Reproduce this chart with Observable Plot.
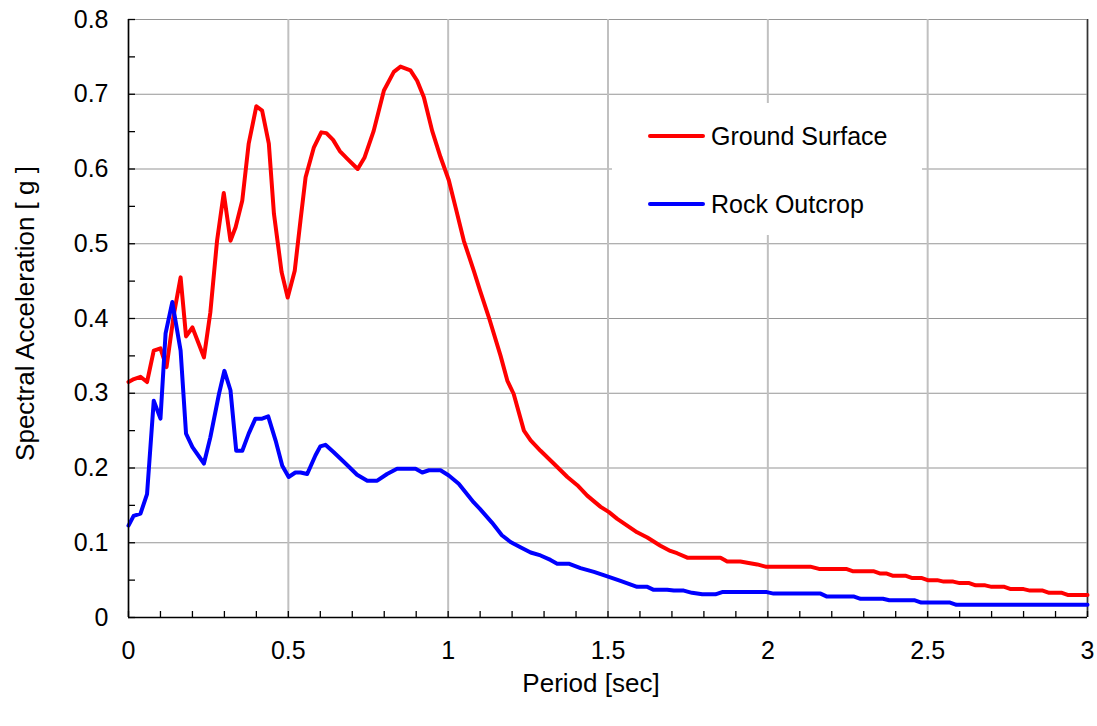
<!DOCTYPE html>
<html>
<head>
<meta charset="utf-8">
<script src="https://cdn.jsdelivr.net/npm/d3@7"></script>
<script src="https://cdn.jsdelivr.net/npm/@observablehq/plot@0.6"></script>
<style>
  html, body { margin: 0; padding: 0; background: #fff; }
  #wrap { position: relative; width: 1097px; height: 726px; font-family: "Liberation Sans", Arial, sans-serif; }
  #legend { position: absolute; left: 612px; top: 103px; width: 310px; height: 132px; background: #fff; }
  .row { position: absolute; left: 36px; height: 30px; display: flex; align-items: center; }
  .sw { width: 57px; height: 4px; border-radius: 2px; margin-right: 6px; }
  .lab { font-size: 25px; color: #000; white-space: nowrap; }
</style>
</head>
<body>
<div id="wrap"><div id="legend"></div></div>
<script>
// ---- data ----
const seriesNames = ["Ground Surface", "Rock Outcrop"];
const seriesColors = ["#ff0000", "#0000ff"];

const groundT = [0, 0.017, 0.0375, 0.058, 0.079, 0.1, 0.119, 0.142, 0.163, 0.18, 0.2, 0.22, 0.236, 0.256, 0.277, 0.298, 0.319, 0.335, 0.356, 0.376, 0.4, 0.418, 0.439, 0.455, 0.479, 0.498, 0.52, 0.538, 0.554, 0.58, 0.603, 0.619, 0.64, 0.661, 0.684, 0.717, 0.738, 0.767, 0.799, 0.83, 0.851, 0.882, 0.903, 0.924, 0.95, 0.976, 1.002, 1.023, 1.049, 1.08, 1.1, 1.127, 1.164, 1.185, 1.205, 1.237, 1.258, 1.289, 1.33, 1.373, 1.404, 1.435, 1.477, 1.503, 1.529, 1.591, 1.623, 1.664, 1.695, 1.716, 1.748, 1.852, 1.873, 1.914, 1.94, 1.967, 1.993, 2.133, 2.16, 2.245, 2.265, 2.33, 2.35, 2.37, 2.39, 2.43, 2.45, 2.48, 2.5, 2.53, 2.55, 2.58, 2.6, 2.63, 2.65, 2.68, 2.7, 2.74, 2.76, 2.8, 2.82, 2.86, 2.88, 2.92, 2.94, 3.0];
const groundSA = [0.315, 0.319, 0.322, 0.315, 0.357, 0.36, 0.335, 0.406, 0.455, 0.376, 0.388, 0.366, 0.348, 0.408, 0.504, 0.568, 0.504, 0.522, 0.558, 0.634, 0.684, 0.678, 0.634, 0.54, 0.462, 0.428, 0.464, 0.531, 0.589, 0.629, 0.649, 0.648, 0.639, 0.624, 0.614, 0.6, 0.615, 0.651, 0.705, 0.73, 0.737, 0.732, 0.718, 0.696, 0.651, 0.616, 0.585, 0.549, 0.504, 0.464, 0.437, 0.402, 0.35, 0.317, 0.299, 0.25, 0.237, 0.223, 0.206, 0.188, 0.177, 0.163, 0.148, 0.141, 0.132, 0.114, 0.107, 0.096, 0.089, 0.086, 0.08, 0.08, 0.075, 0.075, 0.073, 0.071, 0.068, 0.068, 0.065, 0.065, 0.062, 0.062, 0.059, 0.059, 0.056, 0.056, 0.053, 0.053, 0.05, 0.05, 0.048, 0.048, 0.046, 0.046, 0.043, 0.043, 0.041, 0.041, 0.038, 0.038, 0.036, 0.036, 0.033, 0.033, 0.03, 0.03];

const rockT = [0, 0.016, 0.0375, 0.058, 0.079, 0.1, 0.116, 0.137, 0.163, 0.18, 0.2, 0.236, 0.256, 0.283, 0.3, 0.319, 0.337, 0.356, 0.376, 0.397, 0.418, 0.437, 0.46, 0.481, 0.501, 0.522, 0.538, 0.559, 0.585, 0.6, 0.616, 0.642, 0.679, 0.715, 0.747, 0.778, 0.809, 0.84, 0.898, 0.919, 0.94, 0.976, 1.002, 1.033, 1.08, 1.1, 1.137, 1.168, 1.195, 1.226, 1.258, 1.289, 1.32, 1.341, 1.377, 1.414, 1.456, 1.498, 1.539, 1.591, 1.623, 1.643, 1.685, 1.706, 1.737, 1.763, 1.795, 1.836, 1.857, 1.997, 2.018, 2.165, 2.185, 2.27, 2.29, 2.36, 2.38, 2.46, 2.48, 2.57, 2.59, 3.0];
const rockSA = [0.123, 0.136, 0.139, 0.165, 0.29, 0.266, 0.38, 0.422, 0.357, 0.246, 0.228, 0.206, 0.241, 0.299, 0.33, 0.304, 0.223, 0.223, 0.246, 0.266, 0.266, 0.269, 0.237, 0.203, 0.188, 0.194, 0.194, 0.192, 0.217, 0.229, 0.231, 0.221, 0.206, 0.191, 0.183, 0.183, 0.192, 0.199, 0.199, 0.194, 0.197, 0.197, 0.19, 0.179, 0.154, 0.145, 0.127, 0.11, 0.101, 0.094, 0.087, 0.083, 0.077, 0.072, 0.072, 0.066, 0.061, 0.055, 0.049, 0.041, 0.041, 0.037, 0.037, 0.036, 0.036, 0.033, 0.031, 0.031, 0.034, 0.034, 0.032, 0.032, 0.028, 0.028, 0.025, 0.025, 0.023, 0.023, 0.02, 0.02, 0.017, 0.017];

const xLabelTicks = [0, 0.5, 1, 1.5, 2, 2.5, 3];
const xMinorTicks = [0, 0.1, 0.2, 0.3, 0.4, 0.5, 0.6, 0.7, 0.8, 0.9, 1, 1.1, 1.2, 1.3, 1.4, 1.5, 1.6, 1.7, 1.8, 1.9, 2, 2.1, 2.2, 2.3, 2.4, 2.5, 2.6, 2.7, 2.8, 2.9, 3];
const yLabelTicks = [0, 0.1, 0.2, 0.3, 0.4, 0.5, 0.6, 0.7, 0.8];
const yMinorTicks = [0, 0.05, 0.1, 0.15, 0.2, 0.25, 0.3, 0.35, 0.4, 0.45, 0.5, 0.55, 0.6, 0.65, 0.7, 0.75, 0.8];
const xTitle = "Period [sec]";
const yTitle = "Spectral Acceleration [ g ]";

// ---- build table ----
const rows = [];
groundT.forEach((t, i) => rows.push({series: seriesNames[0], T: t, SA: groundSA[i]}));
rockT.forEach((t, i) => rows.push({series: seriesNames[1], T: t, SA: rockSA[i]}));

const chart = Plot.plot({
  width: 1097,
  height: 726,
  marginLeft: 128,
  marginRight: 10,
  marginTop: 19,
  marginBottom: 109,
  style: {fontFamily: "'Liberation Sans', Arial, sans-serif", fontSize: "25px", color: "#000", background: "#fff"},
  x: {domain: [0, 3], label: null},
  y: {domain: [0, 0.8], label: null},
  color: {domain: seriesNames, range: seriesColors},
  marks: [
    Plot.gridY({ticks: yLabelTicks, stroke: "#969696", strokeOpacity: 1, strokeWidth: 1.2}),
    Plot.gridX({ticks: xLabelTicks, stroke: "#c0c0c0", strokeOpacity: 1, strokeWidth: 2}),
    Plot.ruleX([3], {stroke: "#333", strokeWidth: 1.5}),
    Plot.line(rows, {x: "T", y: "SA", z: "series", stroke: "series", strokeWidth: 4, strokeLinejoin: "round", strokeLinecap: "round"}),
    Plot.ruleX([0], {stroke: "#000", strokeWidth: 1.5}),
    Plot.ruleY([0], {stroke: "#000", strokeWidth: 1.5}),
    Plot.axisX({ticks: xMinorTicks, tickSize: -6, tickFormat: () => "", label: null, stroke: "#000", strokeWidth: 1.3}),
    Plot.axisY({ticks: yMinorTicks, tickSize: -7, tickFormat: () => "", label: null, stroke: "#000", strokeWidth: 1.3}),
    Plot.axisX({ticks: xLabelTicks, tickSize: 0, tickPadding: 24, tickFormat: d => String(d), label: null, fontSize: 25}),
    Plot.axisY({ticks: yLabelTicks, tickSize: 0, tickPadding: 20, tickFormat: d => String(d), label: null, fontSize: 25}),
    Plot.text([xTitle], {frameAnchor: "bottom", dx: -17, dy: 66, fontSize: 26, fill: "#000", lineAnchor: "middle", textAnchor: "middle"}),
    Plot.text([yTitle], {frameAnchor: "left", dx: -103, dy: -5, rotate: -90, fontSize: 26, fill: "#000", lineAnchor: "middle", textAnchor: "middle"})
  ]
});

const wrap = document.getElementById("wrap");
wrap.insertBefore(chart, wrap.firstChild);

// legend
const legend = document.getElementById("legend");
seriesNames.forEach((name, i) => {
  const row = document.createElement("div");
  row.className = "row";
  row.style.top = (18 + i * 68) + "px";
  const sw = document.createElement("div");
  sw.className = "sw";
  sw.style.background = seriesColors[i];
  const lab = document.createElement("span");
  lab.className = "lab";
  lab.textContent = name;
  row.appendChild(sw);
  row.appendChild(lab);
  legend.appendChild(row);
});
</script>
</body>
</html>
